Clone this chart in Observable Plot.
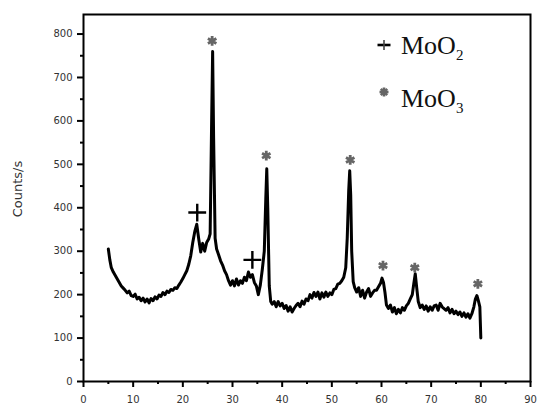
<!DOCTYPE html>
<html>
<head>
<meta charset="utf-8">
<script src="https://cdn.jsdelivr.net/npm/d3@7"></script>
<script src="https://cdn.jsdelivr.net/npm/@observablehq/plot@0.6"></script>
<style>
  html, body { margin: 0; padding: 0; background: #fff; }
  #wrap { position: relative; width: 538px; height: 405px; }
  .leg { position: absolute; font-family: "Liberation Serif", "Times New Roman", serif; font-size: 26px; line-height: 26px; color: #111; white-space: nowrap; }
  .leg sub { font-size: 15px; vertical-align: -6px; line-height: 0; }
  .sym { position: absolute; }
</style>
</head>
<body>
<div id="wrap"></div>
<script>
// ---- data ----
const twoTheta = [
  5.0,5.3,5.6,6.0,6.4,6.8,7.2,7.6,8.0,8.4,8.8,9.2,9.6,10.0,10.4,10.8,11.2,11.6,12.0,12.4,12.8,13.2,13.6,14.0,14.4,14.8,
  15.2,15.6,16.0,16.4,16.8,17.2,17.6,18.0,18.4,18.8,19.2,19.6,20.0,20.4,20.8,21.2,21.6,22.0,22.4,22.8,23.2,23.6,24.0,24.4,
  24.8,25.2,25.5,25.8,26.0,26.2,26.5,26.8,27.2,27.6,28.0,28.4,28.8,29.2,29.6,30.0,30.4,30.8,31.2,31.6,32.0,32.4,32.8,33.2,
  33.6,34.0,34.4,34.8,35.2,35.6,36.0,36.4,36.7,36.9,37.1,37.4,37.7,38.0,38.4,38.8,39.2,39.6,40.0,40.4,40.8,41.2,41.6,42.0,
  42.4,42.8,43.2,43.6,44.0,44.4,44.8,45.2,45.6,46.0,46.4,46.8,47.2,47.6,48.0,48.4,48.8,49.2,49.6,50.0,50.4,50.8,51.2,51.6,
  52.0,52.4,52.8,53.1,53.4,53.6,53.8,54.0,54.3,54.6,55.0,55.4,55.8,56.2,56.6,57.0,57.4,57.8,58.2,58.6,59.0,59.4,59.8,60.1,
  60.4,60.7,61.0,61.4,61.8,62.2,62.6,63.0,63.4,63.8,64.2,64.6,65.0,65.4,65.8,66.2,66.5,66.8,67.1,67.4,67.8,68.2,68.6,69.0,
  69.4,69.8,70.2,70.6,71.0,71.4,71.8,72.2,72.6,73.0,73.4,73.8,74.2,74.6,75.0,75.4,75.8,76.2,76.6,77.0,77.4,77.8,78.2,78.6,
  78.9,79.2,79.5,79.8,80.0
];
const counts = [
  305,280,262,252,244,236,228,220,215,210,204,208,198,196,201,190,194,186,192,183,190,181,191,186,195,190,
  199,196,205,200,208,205,212,210,216,214,222,229,237,246,255,270,290,320,345,362,328,298,318,300,
  320,328,340,600,760,560,330,305,292,278,268,255,246,232,222,232,220,236,222,232,226,240,232,252,
  240,246,228,220,200,222,258,300,420,490,400,220,184,178,184,172,184,174,180,168,175,162,172,160,
  168,175,180,172,185,178,190,186,200,192,205,196,206,190,204,194,206,196,204,200,212,214,224,226,
  232,240,262,330,440,485,430,300,230,216,206,216,196,210,192,206,214,196,204,210,210,218,226,238,
  228,205,176,168,176,160,170,156,166,158,170,164,174,180,190,200,225,248,215,184,170,176,166,174,
  162,172,164,174,176,164,180,172,168,164,170,158,166,156,162,154,160,150,158,148,156,146,156,172,
  190,198,186,172,100
];
const moo2X = [22.9, 34.0];
const moo2Y = [389, 280];
const moo3X = [25.9, 36.8, 53.7, 60.3, 66.7, 79.4];
const moo3Y = [784, 520, 510, 267, 262, 225];
const xTicks = [0,10,20,30,40,50,60,70,80,90];
const xMinor = [5,15,25,35,45,55,65,75,85];
const yTicks = [0,100,200,300,400,500,600,700,800];
const yMinor = [50,150,250,350,450,550,650,750];
const yLabel = "Counts/s";
const legendLabels = ["MoO<sub>2</sub>", "MoO<sub>3</sub>"];

const pattern = twoTheta.map((x, i) => ({x, y: counts[i]}));
const moo2 = moo2X.map((x, i) => ({x, y: moo2Y[i]}));
const moo3 = moo3X.map((x, i) => ({x, y: moo3Y[i]}));

const tickFont = {fontSize: 10, fontFamily: "DejaVu Sans, sans-serif"};

const chart = Plot.plot({
  width: 538,
  height: 405,
  marginLeft: 83,
  marginRight: 8,
  marginTop: 14,
  marginBottom: 24,
  x: {domain: [0, 90]},
  y: {domain: [0, 845]},
  style: {background: "#fff", color: "#333"},
  marks: [
    Plot.axisX({ticks: xTicks, tickSize: 6, tickPadding: 8, strokeWidth: 2, stroke: "#000", label: null, ...tickFont}),
    Plot.axisX({ticks: xMinor, tickSize: 3, strokeWidth: 2, stroke: "#000", text: null, label: null}),
    Plot.axisY({ticks: yTicks, tickSize: 6, tickPadding: 5, strokeWidth: 2, stroke: "#000", label: null, ...tickFont}),
    Plot.axisY({ticks: yMinor, tickSize: 3, strokeWidth: 2, stroke: "#000", text: null, label: null}),
    Plot.text([yLabel], {frameAnchor: "left", textAnchor: "middle", rotate: -90, dx: -66, dy: -9, fontSize: 13, fill: "#333", fontFamily: "DejaVu Sans, sans-serif"}),
    Plot.line(pattern, {x: "x", y: "y", stroke: "#000", strokeWidth: 3, strokeLinejoin: "round"}),
    Plot.frame({stroke: "#000", strokeWidth: 2}),
    Plot.dot(moo2, {x: "x", y: "y", symbol: "plus", r: 5.8, stroke: "#000", strokeWidth: 2.4}),
    Plot.dot(moo3, {x: "x", y: "y", symbol: "asterisk", r: 4.6, stroke: "#666", strokeWidth: 2.8})
  ]
});

const wrap = document.getElementById("wrap");
wrap.appendChild(chart);

// legend overlay
function addSym(svgInner, left, top) {
  const s = document.createElement("div");
  s.className = "sym";
  s.style.left = left + "px";
  s.style.top = top + "px";
  s.innerHTML = `<svg width="16" height="14" viewBox="-8 -7 16 14">${svgInner}</svg>`;
  wrap.appendChild(s);
}
addSym('<line x1="-6.5" y1="0" x2="6.5" y2="0" stroke="#000" stroke-width="2.6"/><line x1="0" y1="-5" x2="0" y2="5" stroke="#444" stroke-width="1.6"/>', 375.5, 38);
addSym('<g stroke="#666" stroke-width="2.6"><line x1="-4.5" y1="0" x2="4.5" y2="0"/><line x1="0" y1="-4.5" x2="0" y2="4.5"/><line x1="-3.2" y1="-3.2" x2="3.2" y2="3.2"/><line x1="-3.2" y1="3.2" x2="3.2" y2="-3.2"/></g>', 376, 85);
const tops = [33, 86];
legendLabels.forEach((t, i) => {
  const d = document.createElement("div");
  d.className = "leg";
  d.style.left = "401px";
  d.style.top = tops[i] + "px";
  d.innerHTML = t;
  wrap.appendChild(d);
});
</script>
</body>
</html>
